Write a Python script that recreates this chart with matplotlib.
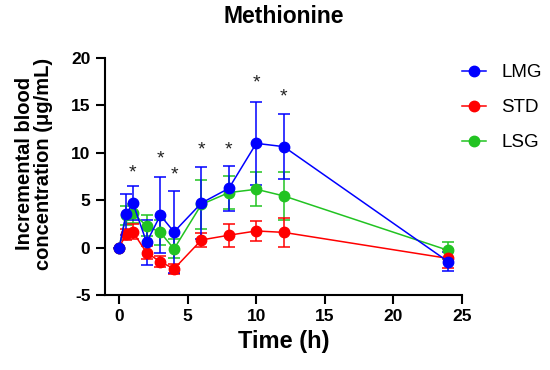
import matplotlib
matplotlib.use("Agg")
import matplotlib.pyplot as plt
from matplotlib.lines import Line2D

time_h = [0, 0.5, 1, 2, 3, 4, 6, 8, 10, 12, 24]

lmg_mean = [0, 3.5, 4.7, 0.55, 3.4, 1.65, 4.7, 6.25, 11.0, 10.65, -1.5]
lmg_sd = [0, 2.2, 1.8, 2.4, 4.0, 4.3, 3.8, 2.35, 4.4, 3.4, 1.0]

std_mean = [0, 1.4, 1.65, -0.55, -1.5, -2.25, 0.8, 1.3, 1.75, 1.6, -1.15]
std_sd = [0, 0.6, 0.8, 0.7, 0.6, 0.5, 0.75, 1.2, 1.05, 1.5, 1.0]

lsg_mean = [0, 3.4, 3.6, 2.3, 1.6, -0.15, 4.55, 5.8, 6.15, 5.45, -0.3]
lsg_sd = [0, 1.0, 1.0, 1.1, 1.3, 1.0, 2.6, 1.7, 1.8, 2.5, 0.9]

sig_times = [1, 3, 4, 6, 8, 10, 12]
sig_y = [7.9, 9.4, 7.65, 10.3, 10.3, 17.35, 15.9]

series = [
    ("LSG", lsg_mean, lsg_sd, "#22c322"),
    ("STD", std_mean, std_sd, "#ff0000"),
    ("LMG", lmg_mean, lmg_sd, "#0000ff"),
]

plt.rcParams['font.family'] = ['Liberation Sans', 'DejaVu Sans']
plt.rcParams['axes.unicode_minus'] = False

fig = plt.figure(figsize=(5.5, 3.7), dpi=100)
ax = fig.add_axes([0.191, 0.203, 0.649, 0.64])

colors = {}
for name, m, s, c in series:
    ax.errorbar(time_h, m, yerr=s, color=c, marker='o', markersize=7.5,
                linewidth=1.1, elinewidth=1.1, capsize=4, capthick=1.1,
                zorder=3)
    colors[name] = c

for t, y in zip(sig_times, sig_y):
    ax.text(t, y, "*", ha='center', va='center', fontsize=14, color='#222222')

ax.set_xlim(-1.03, 25)
ax.set_ylim(-5, 20)
ax.set_xticks([0, 5, 10, 15, 20, 25])
ax.set_yticks([-5, 0, 5, 10, 15, 20])
for side in ['top', 'right']:
    ax.spines[side].set_visible(False)
for side in ['left', 'bottom']:
    ax.spines[side].set_linewidth(1.5)
ax.tick_params(width=1.5, length=6.5, labelsize=12.5, pad=4)
for lab in ax.get_xticklabels() + ax.get_yticklabels():
    lab.set_fontweight('bold')

ax.set_xlabel("Time (h)", fontsize=17, fontweight='bold', labelpad=4)
ax.set_ylabel("Incremental blood\nconcentration (μg/mL)", fontsize=14.5,
              fontweight='bold', linespacing=1.0)
ax.yaxis.set_label_coords(-0.146, 0.555)
ax.set_title("Methionine", fontsize=16.5, fontweight='bold', pad=25)

leg_order = ["LMG", "STD", "LSG"]
leg_handles = [Line2D([], [], color=colors[n], marker='o', markersize=7.5,
                      linewidth=1.1) for n in leg_order]
fig.legend(leg_handles, leg_order, loc='upper left',
           bbox_to_anchor=(0.809, 0.872), frameon=False, fontsize=13.5,
           handlelength=1.3, handletextpad=0.8, labelspacing=0.95)

fig.savefig("out.png", dpi=100)
